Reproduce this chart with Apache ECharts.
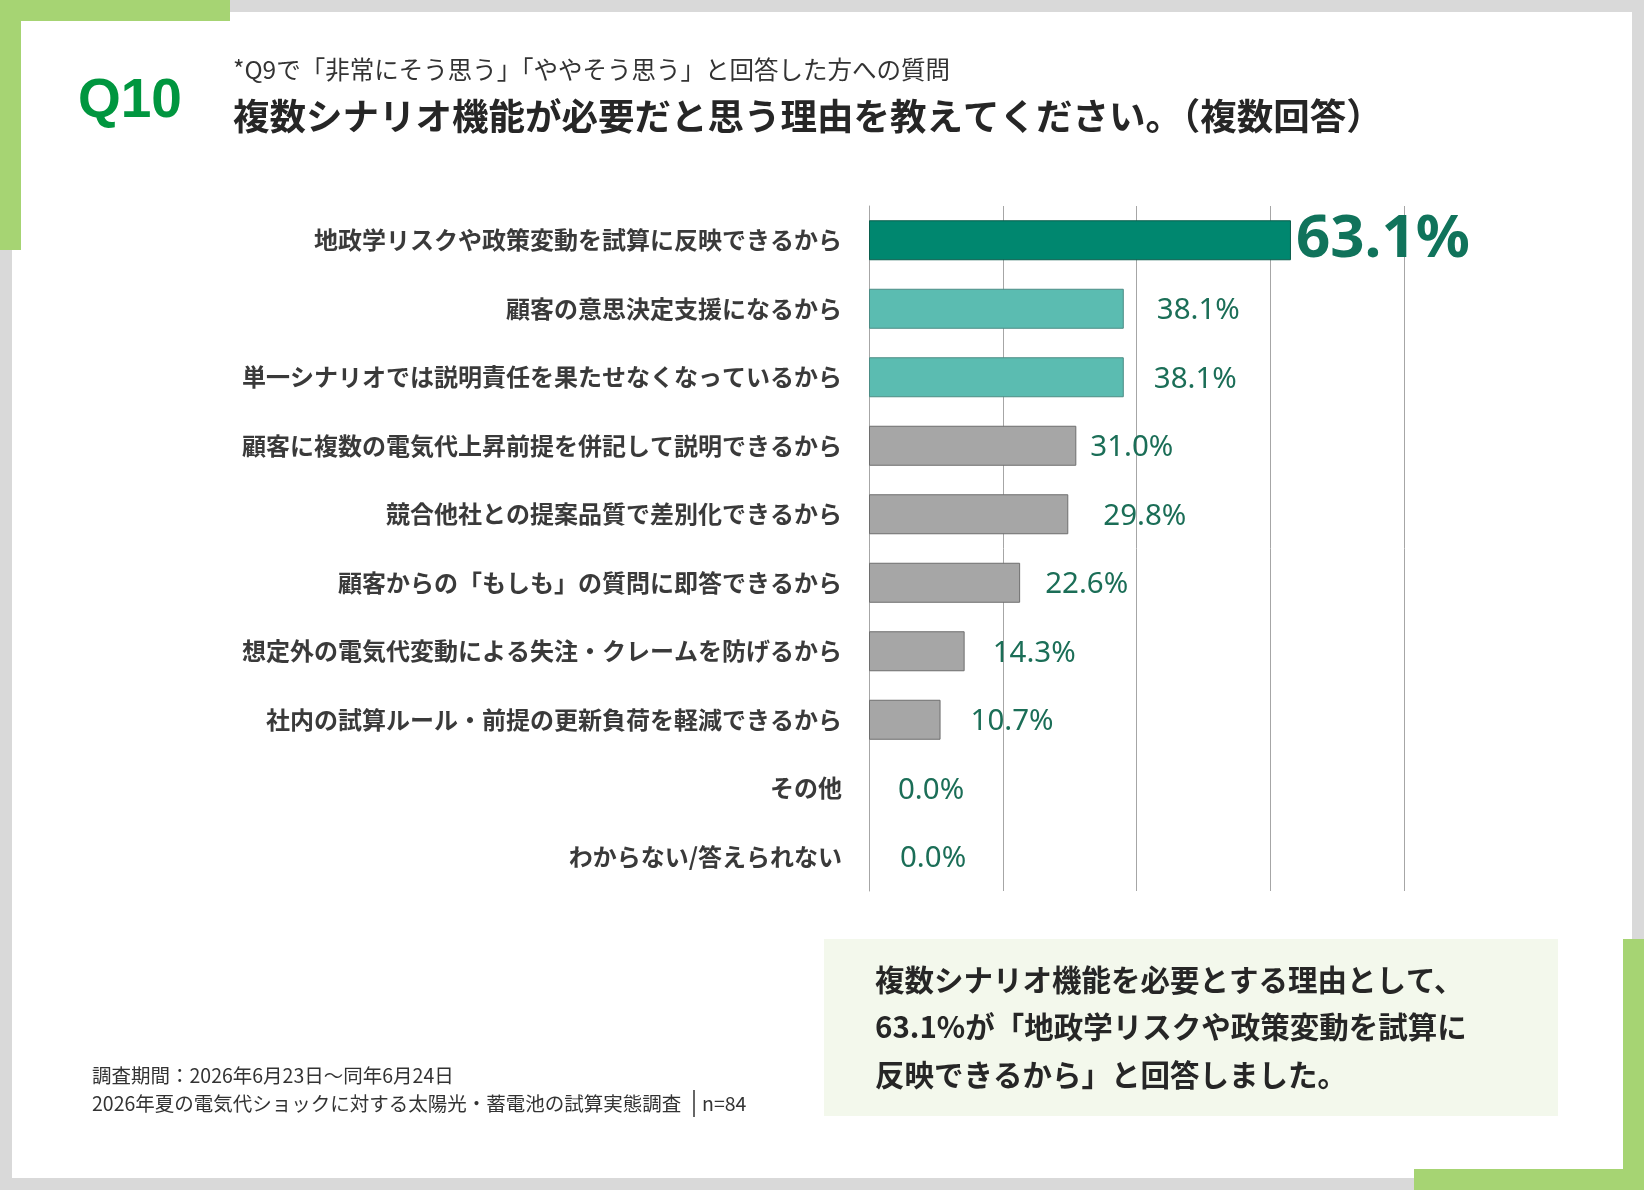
<!DOCTYPE html>
<html>
<head>
    <meta charset="utf-8">
    <title>Q10 複数シナリオ機能が必要な理由</title>
    <script src="https://cdn.jsdelivr.net/npm/echarts@6/dist/echarts.min.js"></script>
    <style>
        html, body { margin: 0; padding: 0; background: #d9d9d9; }
        #chart { width: 1644px; height: 1190px; }
    </style>
</head>
<body>
<div id="chart"></div>
<script>
    // 回答項目（上から順）
    var categories = [
        '地政学リスクや政策変動を試算に反映できるから',
        '顧客の意思決定支援になるから',
        '単一シナリオでは説明責任を果たせなくなっているから',
        '顧客に複数の電気代上昇前提を併記して説明できるから',
        '競合他社との提案品質で差別化できるから',
        '顧客からの「もしも」の質問に即答できるから',
        '想定外の電気代変動による失注・クレームを防げるから',
        '社内の試算ルール・前提の更新負荷を軽減できるから',
        'その他',
        'わからない/答えられない'
    ];
    // 回答率（%）
    var values = [63.1, 38.1, 38.1, 31.0, 29.8, 22.6, 14.3, 10.7, 0.0, 0.0];
    // 棒の色
    var barColors = ['#00876f', '#5bbcb1', '#5bbcb1', '#a6a6a6', '#a6a6a6',
                     '#a6a6a6', '#a6a6a6', '#a6a6a6', '#a6a6a6', '#a6a6a6'];
    // 数値ラベルと棒の間隔（元資料の手置き位置に合わせる）
    var labelGaps = [5, 33, 30, 14, 35, 25, 28, 30, 29, 31];
    var axisTicks = [0, 20, 40, 60, 80];

    var jp = '"Noto Sans CJK JP", "Noto Sans", sans-serif';
    var green = '#a6d473';

    var chart = echarts.init(document.getElementById('chart'));

    var seriesData = values.map(function (v, i) {
        var item = {
            value: v,
            itemStyle: {
                color: barColors[i],
                borderColor: i === 0 ? '#0b5e4d' : (i < 3 ? '#4c8c85' : '#6e6e6e'),
                borderWidth: v > 0 ? 1 : 0
            },
            label: { distance: labelGaps[i] }
        };
        if (i === 0) {
            item.label = { fontSize: 60, fontWeight: 'bold', distance: labelGaps[i], color: '#10735b', offset: [0, 0] };
        }
        return item;
    });

    chart.setOption({
        backgroundColor: '#d9d9d9',
        animation: false,
        grid: { left: 869, right: 240, top: 206, height: 685, containLabel: false },
        xAxis: {
            type: 'value',
            min: axisTicks[0],
            max: axisTicks[axisTicks.length - 1],
            interval: 20,
            axisLabel: { show: false },
            axisLine: { show: false },
            axisTick: { show: false },
            splitLine: { show: true, lineStyle: { color: '#a6a6a6', width: 1 } }
        },
        yAxis: {
            type: 'category',
            inverse: true,
            data: categories,
            axisTick: { show: false },
            axisLine: { show: true, lineStyle: { color: '#a6a6a6', width: 1 } },
            axisLabel: {
                margin: 27,
                fontSize: 24,
                fontWeight: 'bold',
                color: '#3a3a3a',
                fontFamily: jp
            }
        },
        series: [{
            type: 'bar',
            data: seriesData,
            barWidth: 40,
            label: {
                show: true,
                position: 'right',
                fontSize: 29.5,
                offset: [0, 2],
                fontFamily: '"Noto Sans", sans-serif',
                color: '#1b6e57',
                formatter: function (p) { return p.value.toFixed(1) + '%'; }
            }
        }],
        graphic: [
            // 白いカード
            { type: 'rect', z: -20, shape: { x: 12, y: 12, width: 1620, height: 1166 }, style: { fill: '#ffffff' } },
            // 緑の飾り枠
            { type: 'rect', z: -10, shape: { x: 0, y: 0, width: 230, height: 21 }, style: { fill: green } },
            { type: 'rect', z: -10, shape: { x: 0, y: 0, width: 21, height: 250 }, style: { fill: green } },
            { type: 'rect', z: -10, shape: { x: 1414, y: 1169, width: 230, height: 21 }, style: { fill: green } },
            { type: 'rect', z: -10, shape: { x: 1623, y: 939, width: 21, height: 251 }, style: { fill: green } },
            // まとめボックス
            { type: 'rect', z: -10, shape: { x: 824, y: 939, width: 734, height: 177 }, style: { fill: '#f3f8ec' } },

            { type: 'text', x: 78, y: 102, style: { text: 'Q10', font: 'bold 55px "Liberation Sans", Arial, sans-serif', fill: '#00963f', verticalAlign: 'middle' } },
            { type: 'text', x: 233, y: 70, style: { text: '*Q9で「非常にそう思う」「ややそう思う」と回答した方への質問', font: '24.5px ' + jp, fill: '#333333', verticalAlign: 'middle' } },
            { type: 'text', x: 233, y: 116, style: { text: '複数シナリオ機能が必要だと思う理由を教えてください。（複数回答）', font: 'bold 36.5px ' + jp, fill: '#262626', verticalAlign: 'middle' } },

            { type: 'text', x: 92, y: 1076, style: { text: '調査期間：2026年6月23日～同年6月24日', font: '19.5px ' + jp, fill: '#333333', verticalAlign: 'middle' } },
            { type: 'text', x: 92, y: 1104, style: { text: '2026年夏の電気代ショックに対する太陽光・蓄電池の試算実態調査', font: '19.5px ' + jp, fill: '#333333', verticalAlign: 'middle' } },
            { type: 'line', shape: { x1: 694, y1: 1090, x2: 694, y2: 1117 }, style: { stroke: '#333333', lineWidth: 1.5 } },
            { type: 'text', x: 702, y: 1104, style: { text: 'n=84', font: '19.5px ' + jp, fill: '#333333', verticalAlign: 'middle' } },

            { type: 'text', x: 875, y: 980, style: { text: '複数シナリオ機能を必要とする理由として、', font: 'bold 29.5px ' + jp, fill: '#262626', verticalAlign: 'middle' } },
            { type: 'text', x: 875, y: 1027, style: { text: '63.1%が「地政学リスクや政策変動を試算に', font: 'bold 29.5px ' + jp, fill: '#262626', verticalAlign: 'middle' } },
            { type: 'text', x: 875, y: 1075, style: { text: '反映できるから」と回答しました。', font: 'bold 29.5px ' + jp, fill: '#262626', verticalAlign: 'middle' } }
        ]
    });
</script>
</body>
</html>
